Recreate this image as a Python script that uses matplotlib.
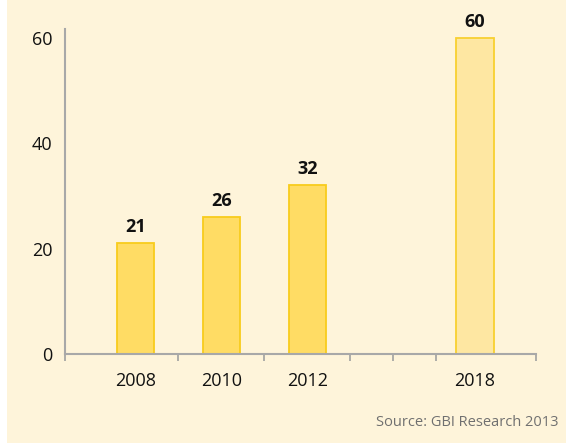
import matplotlib.pyplot as plt
from matplotlib.patches import Rectangle

years = ["2008", "2010", "2012", "2018"]
values = [21, 26, 32, 60]
# slot of each bar along the axis (2018 sits after an empty gap)
slots = [0, 1, 2, 3.95]
fills = ["#ffdc64", "#ffdc64", "#ffdc64", "#fee7a2"]
edges = ["#f8cc1c", "#f8cc1c", "#f8cc1c", "#f8d030"]

bg = "#fef4da"
plt.rcParams['font.family'] = ['Open Sans', 'DejaVu Sans']

fig = plt.figure(figsize=(5.66, 4.45), dpi=100)
fig.patch.set_facecolor(bg)
# thin white strips on the left and bottom edge
fig.patches.append(Rectangle((0, 0), 7 / 566, 1, transform=fig.transFigure,
                             facecolor="white", edgecolor="none", zorder=0))
fig.patches.append(Rectangle((0, 0), 1, 2 / 445, transform=fig.transFigure,
                             facecolor="white", edgecolor="none", zorder=0))

ax = fig.add_axes([65 / 566, 1 - 354 / 445, (536 - 65) / 566, (354 - 29) / 445])
ax.set_facecolor(bg)

ax.bar(slots, values, width=0.436, color=fills, edgecolor=edges, linewidth=1.3, zorder=2)
for x, v in zip(slots, values):
    ax.annotate(str(v), (x, v), xytext=(0, 5), textcoords="offset points",
                ha="center", va="bottom", fontsize=13, fontweight="bold", color="#111111")

ax.set_xlim(-0.82, 4.66)
ax.set_ylim(0, 61.7)

ax.set_yticks([0, 20, 40, 60])
ax.tick_params(axis="y", length=0, pad=9, labelsize=13, labelcolor="#111111")

ax.set_xticks(slots)
ax.set_xticklabels(years)
ax.set_xticks([-0.82, 0.5, 1.5, 2.5, 3.0, 3.5, 4.66], minor=True)
ax.tick_params(axis="x", which="major", length=0, pad=13, labelsize=13, labelcolor="#111111")
ax.tick_params(axis="x", which="minor", length=5, width=1.2, color="#a0a0a0", direction="out")

for side in ["top", "right"]:
    ax.spines[side].set_visible(False)
for side in ["left", "bottom"]:
    ax.spines[side].set_color("#a8a8a8")
    ax.spines[side].set_linewidth(1.5)

fig.text(558 / 566, 1 - 422 / 445, "Source: GBI Research 2013", ha="right", va="center",
         fontsize=10.5, color="#707070")

fig.savefig("out.png", dpi=100, facecolor=bg)
